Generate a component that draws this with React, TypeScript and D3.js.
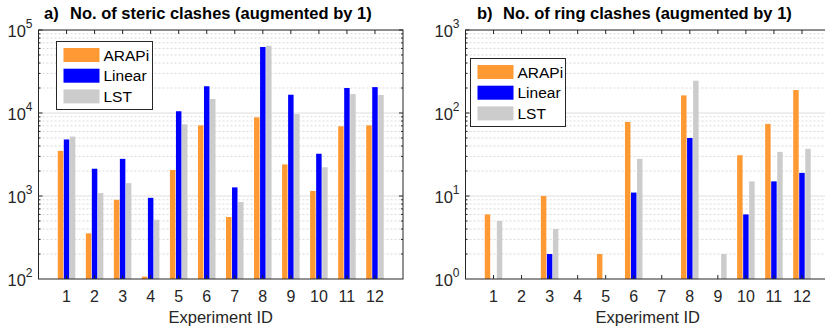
import React, { useRef, useEffect } from 'react';
import * as d3 from 'd3';

const experiments = [1, 2, 3, 4, 5, 6, 7, 8, 9, 10, 11, 12];
const seriesNames = ['ARAPi', 'Linear', 'LST'];
const seriesColors = ['#ff9933', '#0000ff', '#cccccc'];

// steric clashes (+1)
const stericArapi = [3500, 355, 900, 107, 2060, 7100, 558, 8870, 2400, 1150, 6920, 7100];
const stericLinear = [4800, 2130, 2800, 950, 10500, 21000, 1270, 62400, 16600, 3230, 20000, 20500];
const stericLst = [5200, 1085, 1430, 518, 7300, 14750, 847, 64600, 9720, 2220, 16900, 16500];

// ring clashes (+1)
const ringArapi = [6, 1, 10, 1, 2, 78, 1, 163, 1, 31, 74, 189];
const ringLinear = [1, 1, 2, 1, 1, 11, 1, 50, 1, 6, 15, 19];
const ringLst = [5, 1, 4, 1, 1, 28, 1, 245, 2, 15, 34, 37];

const stericDecades = [2, 3, 4, 5];
const ringDecades = [0, 1, 2, 3];

const font = 'Arial, "Liberation Sans", Helvetica, sans-serif';

function drawPanel(svg, opts) {
  const { x0, x1, top, bottom, decades, series, label, title, legend } = opts;
  const lo = Math.pow(10, decades[0]);
  const hi = Math.pow(10, decades[decades.length - 1]);

  const x = d3.scaleLinear().domain([0, 13]).range([x0, x1]);
  const y = d3.scaleLog().domain([lo, hi]).range([bottom, top]);

  const g = svg.append('g');
  const clipId = 'clip-' + label.replace(/\W/g, '');
  g.append('clipPath').attr('id', clipId)
    .append('rect').attr('x', x0).attr('y', top).attr('width', x1 - x0).attr('height', bottom - top);

  const plot = g.append('g').attr('clip-path', `url(#${clipId})`);

  // grid lines
  const minor = [];
  const major = [];
  decades.forEach((d, i) => {
    const base = Math.pow(10, d);
    if (i > 0) major.push(base);
    if (i < decades.length - 1) for (let k = 2; k <= 9; k++) minor.push(base * k);
  });
  plot.append('g').selectAll('line').data(minor).join('line')
    .attr('x1', x0).attr('x2', x1)
    .attr('y1', d => y(d)).attr('y2', d => y(d))
    .attr('stroke', '#d9d9d9').attr('stroke-width', 1)
    .attr('stroke-dasharray', '2,2');
  plot.append('g').selectAll('line').data(major).join('line')
    .attr('x1', x0).attr('x2', x1)
    .attr('y1', d => y(d)).attr('y2', d => y(d))
    .attr('stroke', '#dedede').attr('stroke-width', 1);

  // bars
  const offset = 0.215;
  const bw = 0.195;
  series.forEach((vals, si) => {
    plot.append('g').attr('fill', seriesColors[si])
      .selectAll('rect').data(vals).join('rect')
      .attr('x', (d, i) => x(experiments[i] + (si - 1) * offset - bw / 2))
      .attr('width', x(bw) - x(0))
      .attr('y', d => y(Math.max(d, lo)))
      .attr('height', d => bottom - y(Math.max(d, lo)));
  });

  // box
  g.append('rect').attr('x', x0).attr('y', top)
    .attr('width', x1 - x0).attr('height', bottom - top)
    .attr('fill', 'none').attr('stroke', '#262626').attr('stroke-width', 1);

  // x ticks (inward, top and bottom)
  const tk = g.append('g').attr('stroke', '#262626');
  experiments.forEach(e => {
    tk.append('line').attr('x1', x(e)).attr('x2', x(e)).attr('y1', top).attr('y2', top + 4);
    tk.append('line').attr('x1', x(e)).attr('x2', x(e)).attr('y1', bottom).attr('y2', bottom - 4);
  });
  // y ticks (inward, left and right)
  minor.concat(major).forEach(v => {
    const len = major.includes(v) ? 4 : 2;
    tk.append('line').attr('x1', x0).attr('x2', x0 + len).attr('y1', y(v)).attr('y2', y(v));
    tk.append('line').attr('x1', x1).attr('x2', x1 - len).attr('y1', y(v)).attr('y2', y(v));
  });

  // x tick labels
  g.append('g').attr('font-family', font).attr('font-size', 16).attr('fill', '#262626')
    .attr('text-anchor', 'middle')
    .selectAll('text').data(experiments).join('text')
    .attr('x', d => x(d)).attr('y', bottom + 23)
    .text(d => d);

  // y tick labels
  decades.forEach(d => {
    const t = g.append('text').attr('font-family', font).attr('fill', '#262626')
      .attr('text-anchor', 'end').attr('x', x0 - 6).attr('y', y(Math.pow(10, d)) + 7);
    t.append('tspan').attr('font-size', 16.5).text('10');
    t.append('tspan').attr('font-size', 12).attr('dy', -9).text(d);
  });

  // x axis label
  g.append('text').attr('font-family', font).attr('font-size', 16.5).attr('fill', '#262626')
    .attr('text-anchor', 'middle').attr('x', (x0 + x1) / 2).attr('y', bottom + 44)
    .text('Experiment ID');

  // title
  g.append('text').attr('font-family', font).attr('font-size', 16.5).attr('font-weight', 'bold')
    .attr('x', title.x).attr('y', 19).text(label);
  g.append('text').attr('font-family', font).attr('font-size', 16.5).attr('font-weight', 'bold')
    .attr('x', title.x + 26).attr('y', 19).text(title.text);

  // legend
  const lg = g.append('g');
  lg.append('rect').attr('x', legend.x).attr('y', legend.y)
    .attr('width', legend.w).attr('height', legend.h)
    .attr('fill', 'white').attr('stroke', '#262626').attr('stroke-width', 1);
  seriesNames.forEach((name, i) => {
    const cy = legend.y + 13.5 + i * 20.7;
    lg.append('rect').attr('x', legend.x + 7).attr('y', cy - 7)
      .attr('width', 36).attr('height', 14).attr('fill', seriesColors[i]);
    lg.append('text').attr('font-family', font).attr('font-size', 15.5).attr('fill', '#000')
      .attr('x', legend.x + 47).attr('y', cy + 5.5).text(name);
  });
}

export default function App() {
  const svgRef = useRef(null);

  useEffect(() => {
    const svg = d3.select(svgRef.current);
    svg.selectAll('*').remove();

    drawPanel(svg, {
      x0: 38.5, x1: 403, top: 30, bottom: 279,
      decades: stericDecades,
      series: [stericArapi, stericLinear, stericLst],
      label: 'a)',
      title: { x: 44, text: 'No. of steric clashes (augmented by 1)' },
      legend: { x: 56.5, y: 41.5, w: 96, h: 68 },
    });

    drawPanel(svg, {
      x0: 465.5, x1: 830, top: 30, bottom: 279,
      decades: ringDecades,
      series: [ringArapi, ringLinear, ringLst],
      label: 'b)',
      title: { x: 477, text: 'No. of ring clashes (augmented by 1)' },
      legend: { x: 470.5, y: 58.5, w: 95, h: 68 },
    });
  }, []);

  return (
    <svg
      ref={svgRef}
      width={825}
      height={328}
      style={{ position: 'absolute', left: 0, top: 0, background: 'white' }}
    />
  );
}
